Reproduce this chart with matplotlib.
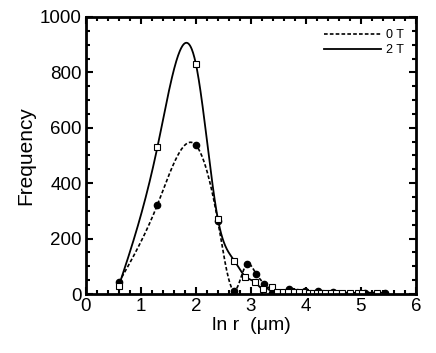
import numpy as np
import matplotlib
matplotlib.use("Agg")
from matplotlib import pyplot as plt
from matplotlib.ticker import MultipleLocator

plt.rcParams['font.family'] = ['Liberation Sans', 'DejaVu Sans']

# 0 T data (filled circles, dashed curve)
x_0t = [0.6, 1.3, 2.0, 2.4, 2.7, 2.92, 3.1, 3.24, 3.38, 3.7, 3.98, 4.22, 4.5, 5.07, 5.43]
y_0t = [42, 322, 537, 262, 12, 107, 71, 37, 3, 18, 10, 12, 8, 5, 5]

# 2 T data (open squares, solid curve)
x_2t = [0.6, 1.3, 2.0, 2.4, 2.7, 2.9, 3.08, 3.22, 3.38, 3.48, 3.58, 3.68, 3.78,
        3.88, 3.98, 4.05, 4.12, 4.2, 4.28, 4.35, 4.45, 4.55, 4.65, 4.8, 4.95, 5.02, 5.3]
y_2t = [30, 530, 830, 270, 120, 63, 42, 18, 25, 8, 7, 6, 6,
        6, 6, 5, 5, 5, 5, 5, 5, 4, 4, 4, 4, 4, 5]


def natural_spline(x, y, n=600):
    x = np.asarray(x, float)
    y = np.asarray(y, float)
    k = len(x)
    h = np.diff(x)
    A = np.zeros((k, k))
    b = np.zeros(k)
    A[0, 0] = A[-1, -1] = 1
    for i in range(1, k - 1):
        A[i, i - 1] = h[i - 1]
        A[i, i] = 2 * (h[i - 1] + h[i])
        A[i, i + 1] = h[i]
        b[i] = 6 * ((y[i + 1] - y[i]) / h[i] - (y[i] - y[i - 1]) / h[i - 1])
    m = np.linalg.solve(A, b)
    xs = np.linspace(x[0], x[-1], n)
    idx = np.clip(np.searchsorted(x, xs) - 1, 0, k - 2)
    x0, x1 = x[idx], x[idx + 1]
    hh = x1 - x0
    t0, t1 = x1 - xs, xs - x0
    ys = (m[idx] * t0**3 + m[idx + 1] * t1**3) / (6 * hh) \
        + (y[idx] / hh - m[idx] * hh / 6) * t0 + (y[idx + 1] / hh - m[idx + 1] * hh / 6) * t1
    return xs, ys


fig = plt.figure(figsize=(4.36, 3.53), dpi=100)
ax = fig.add_axes([0.197, 0.167, 0.757, 0.785])

xs, ys = natural_spline(x_0t, y_0t)
ax.plot(xs, ys, color='black', lw=1.2, ls=(0, (2.2, 1.3)), label='0 T')
xs, ys = natural_spline(x_2t, y_2t)
ax.plot(xs, ys, color='black', lw=1.3, label='2 T')

ax.plot(x_0t, y_0t, 'o', color='black', ms=4.5, ls='none')
ax.plot(x_2t, y_2t, 's', mfc='white', mec='black', mew=0.8, ms=5, ls='none')

ax.set_xlim(0, 6)
ax.set_ylim(0, 1000)
ax.xaxis.set_major_locator(MultipleLocator(1))
ax.xaxis.set_minor_locator(MultipleLocator(0.2))
ax.yaxis.set_major_locator(MultipleLocator(200))
ax.yaxis.set_minor_locator(MultipleLocator(50))
ax.tick_params(which='both', direction='in', top=True, right=True, labelsize=13.5, width=1.5)
ax.tick_params(which='major', length=5, pad=3)
ax.tick_params(which='minor', length=3)
for s in ax.spines.values():
    s.set_linewidth(2)

ax.set_xlabel('ln r  (μm)', fontsize=14, labelpad=1)
ax.set_ylabel('Frequency', fontsize=15, labelpad=3)

ax.legend(loc='upper right', frameon=False, fontsize=9, handlelength=4.5,
          handletextpad=0.4, borderaxespad=0.6, labelspacing=0.2)

fig.savefig('out.png', dpi=100)
